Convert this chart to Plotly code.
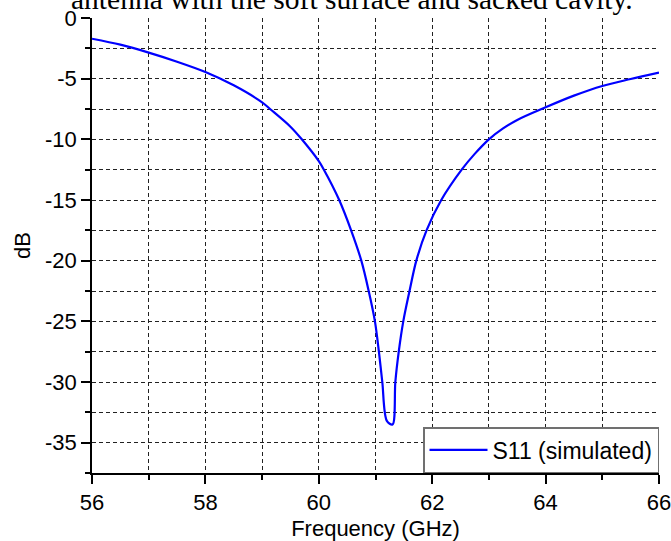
import plotly.graph_objects as go

freq = [56.0, 56.5, 57.0, 57.5, 58.0, 58.5, 59.0, 59.14, 59.5, 59.7, 60.0, 60.09, 60.36,
        60.57, 60.75, 60.88, 60.99, 61.06, 61.12, 61.2, 61.3, 61.35, 61.41, 61.49, 61.6,
        61.72, 61.9, 62.16, 62.52, 62.75, 63.0, 63.25, 63.5, 64.0, 64.5, 65.0, 65.5, 66.0]
s11 = [-1.71, -2.2, -2.85, -3.6, -4.45, -5.55, -6.95, -7.5, -8.96, -10.0, -11.8, -12.5, -15.0,
       -17.5, -20.0, -22.5, -25.0, -27.5, -30.0, -33.2, -33.5, -30.0, -27.5, -25.0, -22.5,
       -20.0, -17.5, -15.0, -12.5, -11.2, -10.0, -9.1, -8.4, -7.36, -6.4, -5.6, -5.03, -4.5]

x_tickvals = [56, 58, 60, 62, 64, 66]
x_ticktext = ["56", "58", "60", "62", "64", "66"]
y_tickvals = [0, -5, -10, -15, -20, -25, -30, -35]
y_ticktext = ["0", "-5", "-10", "-15", "-20", "-25", "-30", "-35"]

title_text = "antenna with the soft surface and sacked cavity."
series_name = "S11 (simulated)"

fig = go.Figure()
fig.add_trace(go.Scatter(
    x=freq, y=s11, mode="lines", name=series_name,
    line=dict(color="#0000FF", width=2.2, shape="spline", smoothing=0.9),
))

font = dict(family="Liberation Sans, Arial, sans-serif", size=22, color="black")
grid = dict(showgrid=True, gridcolor="#222222", gridwidth=1, griddash="4px,3px")

fig.update_layout(
    width=671, height=541,
    margin=dict(l=92, r=12, t=18, b=68),
    paper_bgcolor="white", plot_bgcolor="white",
    font=font,
    showlegend=True,
    legend=dict(
        x=1, y=0, xanchor="right", yanchor="bottom",
        bgcolor="white", bordercolor="#707070", borderwidth=1.5,
        font=dict(family="Liberation Sans, Arial, sans-serif", size=23, color="black"),
        tracegroupgap=0, itemwidth=58,
    ),
    xaxis=dict(
        range=[56, 66], tickmode="array", tickvals=x_tickvals, ticktext=x_ticktext,
        ticks="outside", ticklen=9, tickwidth=1.5, tickcolor="black",
        showline=True, linecolor="black", linewidth=1.5,
        zeroline=False, ticklabeloverflow="allow", **grid,
        minor=dict(tick0=56, dtick=1, ticks="outside", ticklen=5, tickwidth=1.5,
                   tickcolor="black", showgrid=True, gridcolor="#222222", gridwidth=1,
                   griddash="4px,3px"),
        title=dict(text="Frequency (GHz)", standoff=9, font=font),
        automargin=False,
    ),
    yaxis=dict(
        range=[-37.5, 0], tickmode="array", tickvals=y_tickvals, ticktext=y_ticktext,
        ticks="outside", ticklen=9, tickwidth=1.5, tickcolor="black",
        showline=True, linecolor="black", linewidth=1.5,
        zeroline=False, ticklabeloverflow="allow", **grid,
        minor=dict(tick0=0, dtick=2.5, ticks="outside", ticklen=5, tickwidth=1.5,
                   tickcolor="black", showgrid=True, gridcolor="#222222", gridwidth=1,
                   griddash="4px,3px"),
        title=dict(text="dB", standoff=8, font=font),
        automargin=False,
    ),
    annotations=[dict(
        text=title_text, xref="paper", yref="paper", x=0.458, y=1.0022,
        xanchor="center", yanchor="bottom", showarrow=False,
        font=dict(family="Liberation Serif, Times New Roman, serif", size=29.5, color="black"),
    )],
)

# remove the default 8px page margin so the figure fills the window from its corner
fig.write_html("out.html", config={"displayModeBar": False},
               post_script="document.body.style.margin='0';")
